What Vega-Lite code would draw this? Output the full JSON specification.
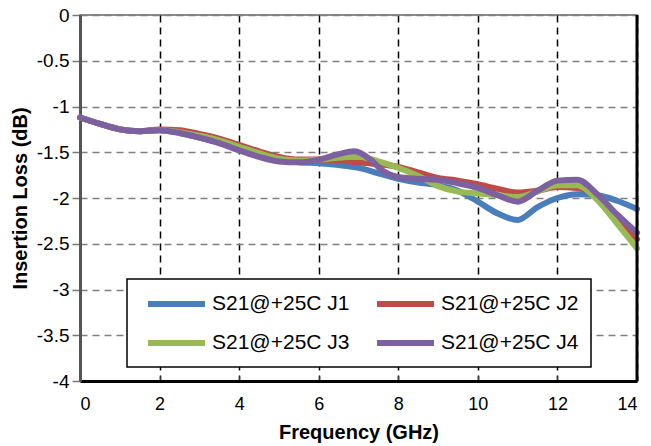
{
  "$schema": "https://vega.github.io/schema/vega-lite/v6.json",
  "width": 557,
  "height": 366,
  "autosize": "none",
  "padding": {"left": 80, "top": 15, "right": 14, "bottom": 65},
  "background": "white",
  "config": {
    "font": "Liberation Sans",
    "view": {"stroke": "#666666", "strokeWidth": 1.5}
  },
  "datasets": {
    "curves": [
      {"f": 0, "v": -1.12, "s": "S21@+25C J1"}, {"f": 0.5, "v": -1.19, "s": "S21@+25C J1"}, {"f": 1, "v": -1.25, "s": "S21@+25C J1"}, {"f": 1.5, "v": -1.27, "s": "S21@+25C J1"}, {"f": 2, "v": -1.26, "s": "S21@+25C J1"}, {"f": 2.5, "v": -1.29, "s": "S21@+25C J1"}, {"f": 3, "v": -1.34, "s": "S21@+25C J1"}, {"f": 3.5, "v": -1.4, "s": "S21@+25C J1"}, {"f": 4, "v": -1.46, "s": "S21@+25C J1"}, {"f": 4.5, "v": -1.53, "s": "S21@+25C J1"}, {"f": 5, "v": -1.58, "s": "S21@+25C J1"}, {"f": 5.5, "v": -1.61, "s": "S21@+25C J1"}, {"f": 6, "v": -1.62, "s": "S21@+25C J1"}, {"f": 6.5, "v": -1.64, "s": "S21@+25C J1"}, {"f": 7, "v": -1.67, "s": "S21@+25C J1"}, {"f": 7.5, "v": -1.73, "s": "S21@+25C J1"}, {"f": 8, "v": -1.79, "s": "S21@+25C J1"}, {"f": 8.5, "v": -1.83, "s": "S21@+25C J1"}, {"f": 9, "v": -1.86, "s": "S21@+25C J1"}, {"f": 9.5, "v": -1.92, "s": "S21@+25C J1"}, {"f": 10, "v": -2.04, "s": "S21@+25C J1"}, {"f": 10.5, "v": -2.17, "s": "S21@+25C J1"}, {"f": 11, "v": -2.24, "s": "S21@+25C J1"}, {"f": 11.5, "v": -2.1, "s": "S21@+25C J1"}, {"f": 12, "v": -2.0, "s": "S21@+25C J1"}, {"f": 12.5, "v": -1.96, "s": "S21@+25C J1"}, {"f": 13, "v": -1.97, "s": "S21@+25C J1"}, {"f": 13.5, "v": -2.03, "s": "S21@+25C J1"}, {"f": 14, "v": -2.12, "s": "S21@+25C J1"},

      {"f": 0, "v": -1.12, "s": "S21@+25C J2"}, {"f": 0.5, "v": -1.19, "s": "S21@+25C J2"}, {"f": 1, "v": -1.25, "s": "S21@+25C J2"}, {"f": 1.5, "v": -1.27, "s": "S21@+25C J2"}, {"f": 2, "v": -1.25, "s": "S21@+25C J2"}, {"f": 2.5, "v": -1.26, "s": "S21@+25C J2"}, {"f": 3, "v": -1.3, "s": "S21@+25C J2"}, {"f": 3.5, "v": -1.35, "s": "S21@+25C J2"}, {"f": 4, "v": -1.42, "s": "S21@+25C J2"}, {"f": 4.5, "v": -1.49, "s": "S21@+25C J2"}, {"f": 5, "v": -1.55, "s": "S21@+25C J2"}, {"f": 5.5, "v": -1.58, "s": "S21@+25C J2"}, {"f": 6, "v": -1.58, "s": "S21@+25C J2"}, {"f": 6.5, "v": -1.59, "s": "S21@+25C J2"}, {"f": 7, "v": -1.61, "s": "S21@+25C J2"}, {"f": 7.5, "v": -1.63, "s": "S21@+25C J2"}, {"f": 8, "v": -1.66, "s": "S21@+25C J2"}, {"f": 8.5, "v": -1.72, "s": "S21@+25C J2"}, {"f": 9, "v": -1.78, "s": "S21@+25C J2"}, {"f": 9.5, "v": -1.81, "s": "S21@+25C J2"}, {"f": 10, "v": -1.85, "s": "S21@+25C J2"}, {"f": 10.5, "v": -1.9, "s": "S21@+25C J2"}, {"f": 11, "v": -1.94, "s": "S21@+25C J2"}, {"f": 11.5, "v": -1.92, "s": "S21@+25C J2"}, {"f": 12, "v": -1.88, "s": "S21@+25C J2"}, {"f": 12.5, "v": -1.89, "s": "S21@+25C J2"}, {"f": 13, "v": -1.98, "s": "S21@+25C J2"}, {"f": 13.5, "v": -2.2, "s": "S21@+25C J2"}, {"f": 14, "v": -2.45, "s": "S21@+25C J2"},

      {"f": 0, "v": -1.12, "s": "S21@+25C J3"}, {"f": 0.5, "v": -1.19, "s": "S21@+25C J3"}, {"f": 1, "v": -1.25, "s": "S21@+25C J3"}, {"f": 1.5, "v": -1.27, "s": "S21@+25C J3"}, {"f": 2, "v": -1.26, "s": "S21@+25C J3"}, {"f": 2.5, "v": -1.28, "s": "S21@+25C J3"}, {"f": 3, "v": -1.32, "s": "S21@+25C J3"}, {"f": 3.5, "v": -1.37, "s": "S21@+25C J3"}, {"f": 4, "v": -1.44, "s": "S21@+25C J3"}, {"f": 4.5, "v": -1.51, "s": "S21@+25C J3"}, {"f": 5, "v": -1.57, "s": "S21@+25C J3"}, {"f": 5.5, "v": -1.59, "s": "S21@+25C J3"}, {"f": 6, "v": -1.58, "s": "S21@+25C J3"}, {"f": 6.5, "v": -1.56, "s": "S21@+25C J3"}, {"f": 7, "v": -1.55, "s": "S21@+25C J3"}, {"f": 7.5, "v": -1.6, "s": "S21@+25C J3"}, {"f": 8, "v": -1.67, "s": "S21@+25C J3"}, {"f": 8.5, "v": -1.76, "s": "S21@+25C J3"}, {"f": 9, "v": -1.87, "s": "S21@+25C J3"}, {"f": 9.5, "v": -1.93, "s": "S21@+25C J3"}, {"f": 10, "v": -1.95, "s": "S21@+25C J3"}, {"f": 10.5, "v": -1.97, "s": "S21@+25C J3"}, {"f": 11, "v": -1.99, "s": "S21@+25C J3"}, {"f": 11.5, "v": -1.93, "s": "S21@+25C J3"}, {"f": 12, "v": -1.86, "s": "S21@+25C J3"}, {"f": 12.5, "v": -1.86, "s": "S21@+25C J3"}, {"f": 13, "v": -2.02, "s": "S21@+25C J3"}, {"f": 13.5, "v": -2.28, "s": "S21@+25C J3"}, {"f": 14, "v": -2.55, "s": "S21@+25C J3"},

      {"f": 0, "v": -1.12, "s": "S21@+25C J4"}, {"f": 0.5, "v": -1.19, "s": "S21@+25C J4"}, {"f": 1, "v": -1.25, "s": "S21@+25C J4"}, {"f": 1.5, "v": -1.27, "s": "S21@+25C J4"}, {"f": 2, "v": -1.26, "s": "S21@+25C J4"}, {"f": 2.5, "v": -1.29, "s": "S21@+25C J4"}, {"f": 3, "v": -1.34, "s": "S21@+25C J4"}, {"f": 3.5, "v": -1.4, "s": "S21@+25C J4"}, {"f": 4, "v": -1.48, "s": "S21@+25C J4"}, {"f": 4.5, "v": -1.55, "s": "S21@+25C J4"}, {"f": 5, "v": -1.6, "s": "S21@+25C J4"}, {"f": 5.5, "v": -1.61, "s": "S21@+25C J4"}, {"f": 6, "v": -1.58, "s": "S21@+25C J4"}, {"f": 6.5, "v": -1.52, "s": "S21@+25C J4"}, {"f": 6.9, "v": -1.49, "s": "S21@+25C J4"}, {"f": 7.3, "v": -1.58, "s": "S21@+25C J4"}, {"f": 7.6, "v": -1.7, "s": "S21@+25C J4"}, {"f": 8, "v": -1.77, "s": "S21@+25C J4"}, {"f": 8.5, "v": -1.79, "s": "S21@+25C J4"}, {"f": 9, "v": -1.8, "s": "S21@+25C J4"}, {"f": 9.5, "v": -1.84, "s": "S21@+25C J4"}, {"f": 10, "v": -1.89, "s": "S21@+25C J4"}, {"f": 10.5, "v": -1.97, "s": "S21@+25C J4"}, {"f": 11, "v": -2.04, "s": "S21@+25C J4"}, {"f": 11.5, "v": -1.92, "s": "S21@+25C J4"}, {"f": 12, "v": -1.81, "s": "S21@+25C J4"}, {"f": 12.5, "v": -1.8, "s": "S21@+25C J4"}, {"f": 13, "v": -1.96, "s": "S21@+25C J4"}, {"f": 13.5, "v": -2.18, "s": "S21@+25C J4"}, {"f": 14, "v": -2.38, "s": "S21@+25C J4"}
    ]
  },
  "data": {"name": "curves"},
  "layer": [
    {
      "mark": {"type": "line", "interpolate": "monotone", "strokeWidth": 6, "strokeCap": "round"},
      "encoding": {
        "x": {
          "field": "f", "type": "quantitative",
          "scale": {"domain": [0, 14], "nice": false},
          "axis": {
            "values": [0, 2, 4, 6, 8, 10, 12, 14],
            "title": "Frequency (GHz)",
            "titleFont": "Liberation Sans", "titleFontSize": 20, "titleFontWeight": "bold", "titleColor": "black", "titlePadding": 9,
            "labelFont": "Liberation Sans", "labelFontSize": 18, "labelColor": "black", "labelPadding": 19,
            "domainColor": "black", "domainWidth": 3,
            "tickColor": "#444", "tickSize": -5, "tickWidth": 1.5,
            "grid": true, "gridColor": "black", "gridDash": [7, 5], "gridWidth": 1.5
          }
        },
        "y": {
          "field": "v", "type": "quantitative",
          "scale": {"domain": [-4, 0], "nice": false},
          "axis": {
            "values": [-4, -3.5, -3, -2.5, -2, -1.5, -1, -0.5, 0],
            "labelExpr": "toString(datum.value)",
            "title": "Insertion Loss (dB)",
            "titleFont": "Liberation Sans", "titleFontSize": 20, "titleFontWeight": "bold", "titleColor": "black", "titlePadding": 6,
            "labelFont": "Liberation Sans", "labelFontSize": 19, "labelColor": "black", "labelPadding": 3,
            "domainColor": "#555", "domainWidth": 3,
            "tickColor": "#777", "tickSize": 8, "tickWidth": 1.5,
            "grid": true, "gridColor": "#808080", "gridDash": [7, 5], "gridWidth": 1.5
          }
        },
        "color": {
          "field": "s", "type": "nominal",
          "scale": {
            "domain": ["S21@+25C J1", "S21@+25C J2", "S21@+25C J3", "S21@+25C J4"],
            "range": ["#4a7ebb", "#be4b48", "#98b954", "#7d60a0"]
          },
          "legend": {
            "title": null,
            "orient": "none", "legendX": 47, "legendY": 264,
            "direction": "horizontal",
            "columns": 2, "columnPadding": 15, "rowPadding": 14,
            "symbolType": "M-0.4,0H5.3", "symbolStrokeWidth": 6, "symbolSize": 400,
            "labelFont": "Liberation Sans", "labelFontSize": 21, "labelColor": "black", "labelOffset": 47,
            "fillColor": "white", "strokeColor": "black", "padding": 12,
            "labelLimit": 300,
            "encode": {"legend": {"update": {"strokeWidth": {"value": 1.5}}}}
          }
        },
        "order": {"field": "s"}
      }
    },
    {
      "mark": {"type": "rule", "color": "black", "strokeWidth": 3},
      "data": {"values": [{"f": 14}]},
      "encoding": {"x": {"field": "f", "type": "quantitative"}}
    }
  ]
}
